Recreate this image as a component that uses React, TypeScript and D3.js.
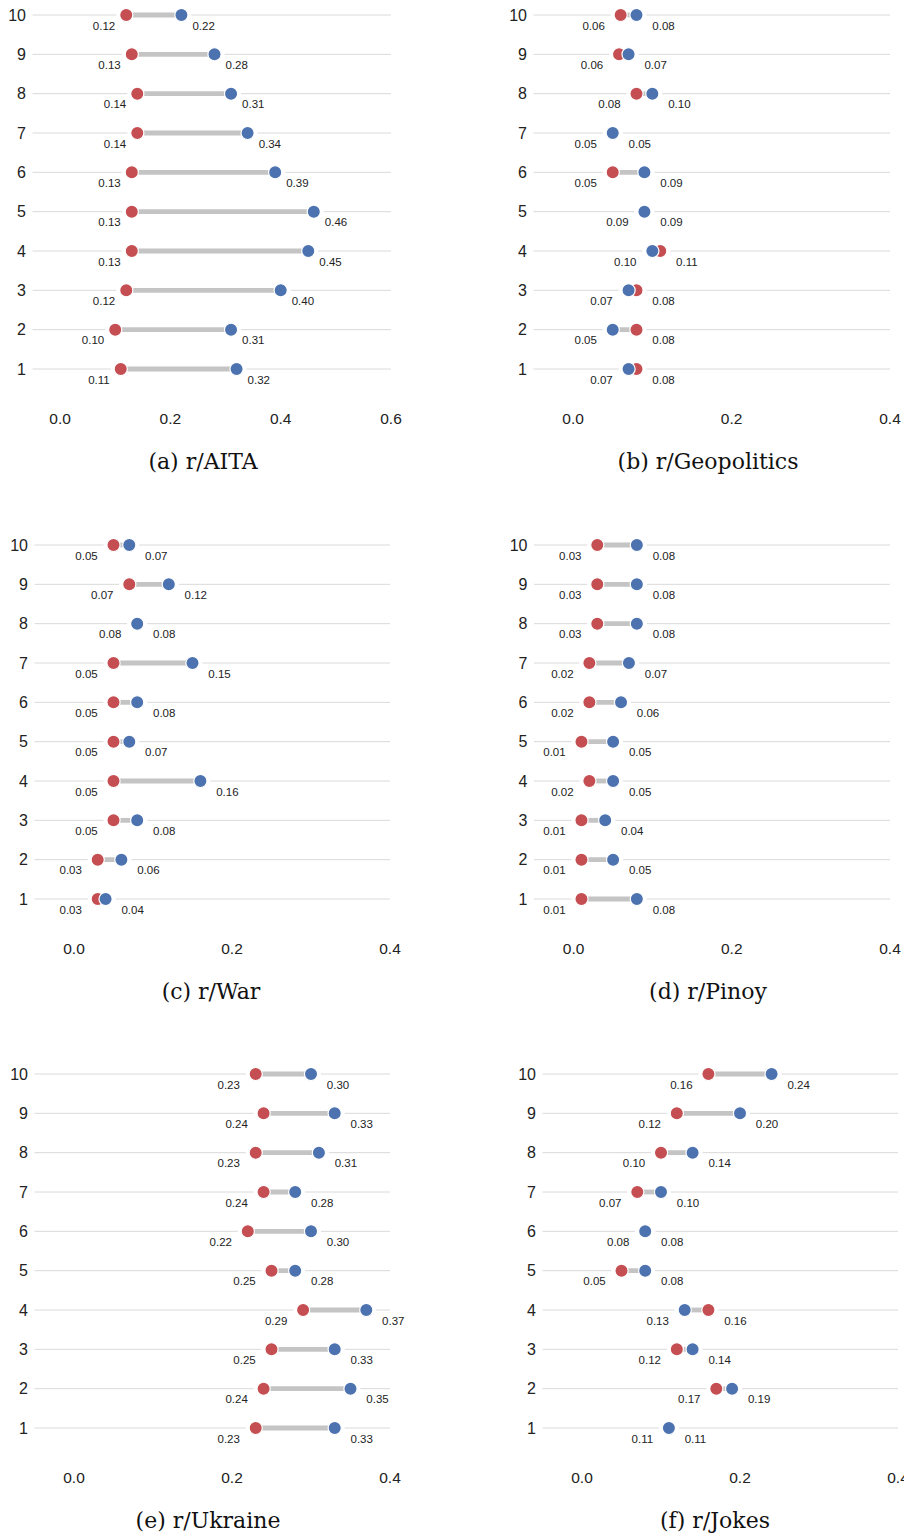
import React from "react";
import * as d3 from "d3";

// ---------- data (ranks 1..10) ----------
const ranks = [1, 2, 3, 4, 5, 6, 7, 8, 9, 10];

const aitaRed = [0.11, 0.10, 0.12, 0.13, 0.13, 0.13, 0.14, 0.14, 0.13, 0.12];
const aitaBlue = [0.32, 0.31, 0.40, 0.45, 0.46, 0.39, 0.34, 0.31, 0.28, 0.22];

const geoRed = [0.08, 0.08, 0.08, 0.11, 0.09, 0.05, 0.05, 0.08, 0.058, 0.06];
const geoBlue = [0.07, 0.05, 0.07, 0.10, 0.09, 0.09, 0.05, 0.10, 0.07, 0.08];

const warRed = [0.03, 0.03, 0.05, 0.05, 0.05, 0.05, 0.05, 0.08, 0.07, 0.05];
const warBlue = [0.04, 0.06, 0.08, 0.16, 0.07, 0.08, 0.15, 0.08, 0.12, 0.07];

const pinoyRed = [0.01, 0.01, 0.01, 0.02, 0.01, 0.02, 0.02, 0.03, 0.03, 0.03];
const pinoyBlue = [0.08, 0.05, 0.04, 0.05, 0.05, 0.06, 0.07, 0.08, 0.08, 0.08];

const ukraineRed = [0.23, 0.24, 0.25, 0.29, 0.25, 0.22, 0.24, 0.23, 0.24, 0.23];
const ukraineBlue = [0.33, 0.35, 0.33, 0.37, 0.28, 0.30, 0.28, 0.31, 0.33, 0.30];

const jokesRed = [0.11, 0.17, 0.12, 0.16, 0.05, 0.08, 0.07, 0.10, 0.12, 0.16];
const jokesBlue = [0.11, 0.19, 0.14, 0.13, 0.08, 0.08, 0.10, 0.14, 0.20, 0.24];

const ticksWide = [0, 0.2, 0.4, 0.6];
const ticksNarrow = [0, 0.2, 0.4];

const titles = ["(a) r/AITA", "(b) r/Geopolitics", "(c) r/War", "(d) r/Pinoy", "(e) r/Ukraine", "(f) r/Jokes"];

// ---------- layout ----------
const RED = "#c44e52";
const BLUE = "#4c72b0";
const GRID = "#dadada";
const CONNECT = "#c4c4c4";
const SANS = "'Liberation Sans', Arial, sans-serif";
const SERIF = "'DejaVu Serif', serif";

type Panel = {
  title: string;
  red: number[];
  blue: number[];
  xMax: number;
  ticks: number[];
  x0: number;
  x1: number;
  top: number;
  capX: number;
};

const panels: Panel[] = [
  { title: titles[0], red: aitaRed, blue: aitaBlue, xMax: 0.6, ticks: ticksWide, x0: 32.5, x1: 391, top: 15, capX: 203 },
  { title: titles[1], red: geoRed, blue: geoBlue, xMax: 0.4, ticks: ticksNarrow, x0: 533.5, x1: 890, top: 15, capX: 708 },
  { title: titles[2], red: warRed, blue: warBlue, xMax: 0.4, ticks: ticksNarrow, x0: 34.5, x1: 390, top: 545, capX: 211 },
  { title: titles[3], red: pinoyRed, blue: pinoyBlue, xMax: 0.4, ticks: ticksNarrow, x0: 534, x1: 890, top: 545, capX: 708 },
  { title: titles[4], red: ukraineRed, blue: ukraineBlue, xMax: 0.4, ticks: ticksNarrow, x0: 34.5, x1: 390, top: 1074, capX: 208 },
  { title: titles[5], red: jokesRed, blue: jokesBlue, xMax: 0.4, ticks: ticksNarrow, x0: 542.5, x1: 898, top: 1074, capX: 715 },
];

const ROW_SPAN = 354; // distance from row 10 to row 1
const R = 6.6;
const HALO = 10;

const fmt2 = d3.format(".2f");
const fmt1 = d3.format(".1f");

function PanelView({ p }: { p: Panel }) {
  const x = d3.scaleLinear().domain([-0.05, p.xMax]).range([p.x0, p.x1]);
  const y = d3.scaleLinear().domain([10, 1]).range([p.top, p.top + ROW_SPAN]);
  const off = 0.02;
  return (
    <g>
      {ranks.map((r) => (
        <line key={"g" + r} x1={p.x0} x2={p.x1} y1={y(r)} y2={y(r)} stroke={GRID} strokeWidth={1} />
      ))}
      {ranks.map((r) => (
        <text key={"yl" + r} x={p.x0 - 6.5} y={y(r) + 5.5} textAnchor="end" fontSize={16} fontFamily={SANS} fill="#222">
          {r}
        </text>
      ))}
      {ranks.map((r, i) => (
        <g key={"h" + r}>
          <circle cx={x(p.red[i])} cy={y(r)} r={HALO} fill="#fff" />
          <circle cx={x(p.blue[i])} cy={y(r)} r={HALO} fill="#fff" />
        </g>
      ))}
      {ranks.map((r, i) => (
        <line key={"c" + r} x1={x(p.red[i])} x2={x(p.blue[i])} y1={y(r)} y2={y(r)} stroke={CONNECT} strokeWidth={4.8} />
      ))}
      {ranks.map((r, i) => (
        <circle key={"r" + r} cx={x(p.red[i])} cy={y(r)} r={R} fill={RED} stroke="#fff" strokeWidth={1.2} />
      ))}
      {ranks.map((r, i) => (
        <circle key={"b" + r} cx={x(p.blue[i])} cy={y(r)} r={R} fill={BLUE} stroke="#fff" strokeWidth={1.2} />
      ))}
      {ranks.map((r, i) => {
        const lo = Math.min(p.red[i], p.blue[i]);
        const hi = Math.max(p.red[i], p.blue[i]);
        return (
          <g key={"v" + r} fontSize={11.5} fontFamily={SANS} fill="#222">
            <text x={x(lo - off)} y={y(r) + 14.5} textAnchor="end">{fmt2(lo)}</text>
            <text x={x(hi + off)} y={y(r) + 14.5} textAnchor="start">{fmt2(hi)}</text>
          </g>
        );
      })}
      {p.ticks.map((t) => (
        <text key={"xt" + t} x={x(t)} y={p.top + 408.5} textAnchor="middle" fontSize={15.5} fontFamily={SANS} fill="#222">
          {fmt1(t)}
        </text>
      ))}
      <text x={p.capX} y={p.top + 454} textAnchor="middle" fontSize={22} fontFamily={SERIF} fill="#111">
        {p.title}
      </text>
    </g>
  );
}

export default function App() {
  return (
    <svg
      width={904}
      height={1539}
      viewBox="0 0 904 1539"
      style={{ position: "absolute", left: 0, top: 0, background: "#fff" }}
    >
      <rect x={0} y={0} width={904} height={1539} fill="#fff" />
      {panels.map((p) => (
        <PanelView key={p.title} p={p} />
      ))}
    </svg>
  );
}
